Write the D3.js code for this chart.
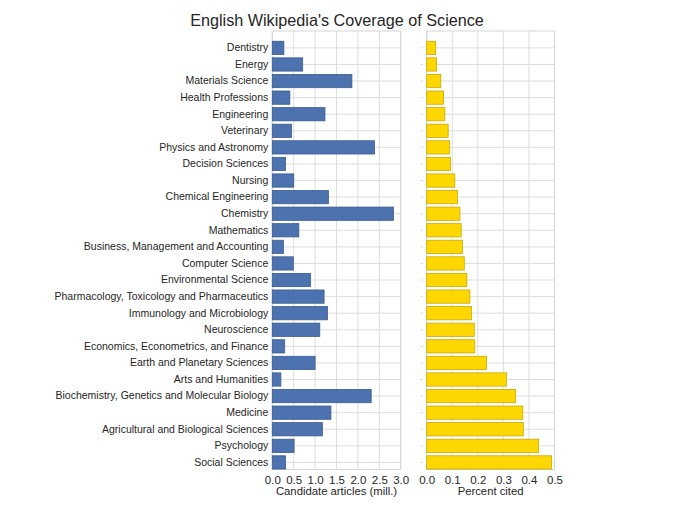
<!DOCTYPE html>
<html>
<head>
<meta charset="utf-8">
<script src="https://cdn.jsdelivr.net/npm/d3@7"></script>
<style>
    body { margin: 0; background: #fff; }
    text { font-family: "Liberation Sans", Arial, sans-serif; fill: #262626; }
    .gridline { stroke: #dedede; stroke-width: 1; }
</style>
</head>
<body>
<div id="chart"></div>
<script>
const categories = [
    "Dentistry", "Energy", "Materials Science", "Health Professions", "Engineering",
    "Veterinary", "Physics and Astronomy", "Decision Sciences", "Nursing",
    "Chemical Engineering", "Chemistry", "Mathematics", "Business, Management and Accounting",
    "Computer Science", "Environmental Science", "Pharmacology, Toxicology and Pharmaceutics",
    "Immunology and Microbiology", "Neuroscience", "Economics, Econometrics, and Finance",
    "Earth and Planetary Sciences", "Arts and Humanities",
    "Biochemistry, Genetics and Molecular Biology", "Medicine",
    "Agricultural and Biological Sciences", "Psychology", "Social Sciences"
];

// candidate articles (millions)
const candidateArticles = [
    0.27, 0.71, 1.86, 0.41, 1.23, 0.45, 2.39, 0.31, 0.50, 1.31, 2.83, 0.62, 0.26,
    0.49, 0.89, 1.21, 1.29, 1.11, 0.29, 1.00, 0.20, 2.31, 1.37, 1.17, 0.51, 0.31
];

// percent cited
const percentCited = [
    0.035, 0.039, 0.055, 0.066, 0.071, 0.084, 0.090, 0.093, 0.110, 0.121, 0.130, 0.135, 0.140,
    0.147, 0.157, 0.169, 0.175, 0.186, 0.188, 0.234, 0.312, 0.348, 0.376, 0.378, 0.438, 0.488
];

const leftTicks = [0, 0.5, 1.0, 1.5, 2.0, 2.5, 3.0];
const rightTicks = [0, 0.1, 0.2, 0.3, 0.4, 0.5];

const width = 700, height = 509;
const panelTop = 31, panelBottom = 469.5;

const svg = d3.select("#chart").append("svg")
    .attr("width", width)
    .attr("height", height);

svg.append("rect").attr("width", width).attr("height", height).attr("fill", "#fff");

svg.append("text")
    .attr("x", 337)
    .attr("y", 26)
    .attr("text-anchor", "middle")
    .style("font-size", "16.2px")
    .text("English Wikipedia's Coverage of Science");

const yScale = d3.scaleBand()
    .domain(categories)
    .range([39.6, 470.7])
    .paddingInner(0.2)
    .paddingOuter(0.1);

const panels = [
    {
        data: candidateArticles, ticks: leftTicks,
        x: d3.scaleLinear().domain([0, 3]).range([272.3, 400.7]),
        fill: "#4c72b0", stroke: "#3b5b91",
        title: "Candidate articles (mill.)", showLabels: true
    },
    {
        data: percentCited, ticks: rightTicks,
        x: d3.scaleLinear().domain([0, 0.5]).range([426.7, 554.5]),
        fill: "#ffd700", stroke: "#c9a900",
        title: "Percent cited", showLabels: false
    }
];

panels.forEach((p) => {
    const [x0, x1] = p.x.range();
    const g = svg.append("g");

    // vertical gridlines
    g.selectAll(".vgrid")
        .data(p.ticks)
        .enter()
        .append("line")
        .attr("class", "gridline")
        .attr("x1", (d) => p.x(d)).attr("x2", (d) => p.x(d))
        .attr("y1", panelTop).attr("y2", panelBottom);

    // horizontal gridlines at each category
    g.selectAll(".hgrid")
        .data(categories)
        .enter()
        .append("line")
        .attr("class", "gridline")
        .attr("x1", x0).attr("x2", x1)
        .attr("y1", (d) => yScale(d) + yScale.bandwidth() / 2)
        .attr("y2", (d) => yScale(d) + yScale.bandwidth() / 2);

    // frame
    g.append("rect")
        .attr("x", x0).attr("y", panelTop)
        .attr("width", x1 - x0).attr("height", panelBottom - panelTop)
        .attr("fill", "none")
        .attr("stroke", "#d6d6d6");

    g.selectAll(".bar")
        .data(p.data)
        .enter()
        .append("rect")
        .attr("x", p.x(0))
        .attr("y", (d, i) => yScale(categories[i]))
        .attr("width", (d) => p.x(d) - p.x(0))
        .attr("height", yScale.bandwidth())
        .attr("fill", p.fill)
        .attr("stroke", p.stroke)
        .attr("stroke-width", 0.8);

    // x axis
    const xAxis = svg.append("g")
        .attr("transform", `translate(0, ${panelBottom})`)
        .call(d3.axisBottom(p.x)
            .tickValues(p.ticks)
            .tickSize(0)
            .tickPadding(6)
            .tickFormat(d3.format(".1f")));
    xAxis.select(".domain").remove();
    xAxis.selectAll("text")
        .style("font-size", "11.5px")
        .style("font-family", "'Liberation Sans', Arial, sans-serif")
        .attr("fill", "#262626");

    svg.append("text")
        .attr("x", (x0 + x1) / 2)
        .attr("y", 495)
        .attr("text-anchor", "middle")
        .style("font-size", "11.3px")
        .text(p.title);

    const yAxis = svg.append("g")
        .attr("transform", `translate(${x0}, 0)`)
        .call(d3.axisLeft(yScale)
            .tickSize(p.showLabels ? 0 : 2)
            .tickPadding(4)
            .tickFormat(p.showLabels ? null : ""));
    yAxis.select(".domain").remove();
    yAxis.selectAll(".tick line").attr("stroke", "#cfcfcf").attr("transform", "translate(-4,0)");
    yAxis.selectAll("text")
        .style("font-size", "10.5px")
        .style("font-family", "'Liberation Sans', Arial, sans-serif")
        .attr("fill", "#262626");
});
</script>
</body>
</html>
